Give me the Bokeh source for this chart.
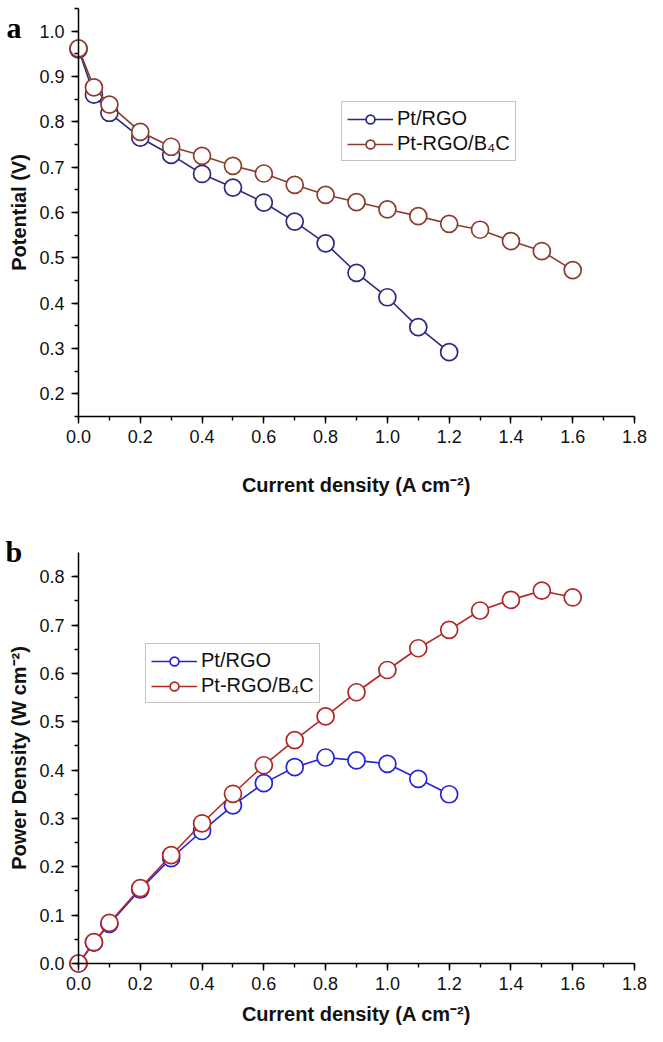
from bokeh.plotting import figure
from bokeh.layouts import column
from bokeh.models import SingleIntervalTicker, PrintfTickFormatter, Legend, LegendItem, Label, Range1d
from bokeh.embed import file_html
from bokeh.resources import INLINE

# ---- data ----
x_rgo = [0, 0.05, 0.1, 0.2, 0.3, 0.4, 0.5, 0.6, 0.7, 0.8, 0.9, 1.0, 1.1, 1.2]
x_b4c = [0, 0.05, 0.1, 0.2, 0.3, 0.4, 0.5, 0.6, 0.7, 0.8, 0.9, 1.0, 1.1, 1.2, 1.3, 1.4, 1.5, 1.6]

v_rgo = [0.960, 0.860, 0.820, 0.765, 0.727, 0.685, 0.655, 0.622, 0.580, 0.532, 0.467, 0.413, 0.347, 0.292]
v_b4c = [0.962, 0.876, 0.838, 0.778, 0.745, 0.725, 0.703, 0.686, 0.661, 0.639, 0.623, 0.607, 0.592,
         0.575, 0.562, 0.537, 0.515, 0.473]

p_rgo = [0.000, 0.043, 0.082, 0.153, 0.218, 0.274, 0.327, 0.373, 0.406, 0.426, 0.420, 0.413, 0.382, 0.350]
p_b4c = [0.000, 0.044, 0.084, 0.156, 0.224, 0.290, 0.351, 0.410, 0.462, 0.511, 0.561, 0.607, 0.652,
         0.690, 0.730, 0.752, 0.771, 0.757]

label_rgo = "Pt/RGO"
label_b4c = "Pt-RGO/B\u2084C"
xlabel = "Current density (A cm\u207b\u00b2)"
ylabel_a = "Potential (V)"
ylabel_b = "Power Density (W cm\u207b\u00b2)"

FONT = "Liberation Sans"

# axis extents (data) and layout (pixels inside each canvas)
X0, X1 = 0.0, 1.8
YA0, YA1 = 0.15, 1.05
YB0, YB1 = 0.0, 0.85
W = 647
AX_L, AX_R = 78, 634          # y-axis position / x-axis right end, px
HA, TA, BA = 510, 8, 416       # panel a: height, axis top, axis bottom
HB, TB, BB = 516, 42, 453      # panel b


def ranges(H, T, B, y0, y1):
    sx = (X1 - X0) / (AX_R - AX_L)
    sy = (y1 - y0) / (B - T)
    xr = Range1d(X0 - AX_L * sx, X1 + (W - AX_R) * sx)
    yr = Range1d(y0 - (H - B) * sy, y1 + T * sy)
    return xr, yr, sx, sy


def style(p, ylabel, xstand, y0, y1):
    p.xaxis.ticker = SingleIntervalTicker(interval=0.2, num_minor_ticks=2)
    p.yaxis.ticker = SingleIntervalTicker(interval=0.1, num_minor_ticks=2)
    p.xaxis.fixed_location = y0
    p.yaxis.fixed_location = X0
    p.xaxis.bounds = (X0, X1)
    p.yaxis.bounds = (y0, y1)
    for ax in (p.xaxis, p.yaxis):
        ax.formatter = PrintfTickFormatter(format="%.1f")
        ax.axis_line_color = "black"
        ax.axis_line_width = 1.5
        ax.major_tick_line_color = "black"
        ax.minor_tick_line_color = "black"
        ax.major_tick_line_width = 1.4
        ax.minor_tick_line_width = 1.4
        ax.major_tick_in = 0
        ax.major_tick_out = 7
        ax.minor_tick_in = 0
        ax.minor_tick_out = 4
        ax.major_label_text_font = FONT
        ax.major_label_text_font_size = "18px"
        ax.major_label_text_color = "#111111"
        ax.axis_label_text_font = FONT
        ax.axis_label_text_font_size = "20px"
        ax.axis_label_text_font_style = "bold"
        ax.axis_label_text_color = "#111111"
    p.xaxis.axis_label = xlabel
    p.yaxis.axis_label = ylabel
    p.xaxis.major_label_standoff = 6
    p.xaxis.axis_label_standoff = xstand
    p.yaxis.major_label_standoff = 7
    p.yaxis.axis_label_standoff = 6
    p.xgrid.visible = False
    p.ygrid.visible = False
    p.outline_line_color = None
    p.background_fill_color = "white"
    p.border_fill_color = "white"


def series(p, xs, ys, color):
    ln = p.line(xs, ys, line_color=color, line_width=1.6)
    sc = p.scatter(xs, ys, marker="circle", size=17, fill_color="white", line_color=color, line_width=1.7)
    return [ln, sc]


def make_fig(H, T, B, y0, y1):
    xr, yr, sx, sy = ranges(H, T, B, y0, y1)
    p = figure(width=W, height=H, output_backend="svg", toolbar_location=None,
               x_range=xr, y_range=yr, min_border=0,
               min_border_left=0, min_border_right=0, min_border_top=0, min_border_bottom=0)
    return p, sx, sy


def legend_style(lg):
    lg.label_text_font = FONT
    lg.label_text_font_size = "20px"
    lg.label_text_color = "#111111"
    lg.glyph_width = 46
    lg.glyph_height = 22
    lg.label_standoff = 4
    lg.spacing = 2
    lg.padding = 5
    lg.margin = 0
    lg.border_line_color = "#8a8a8a"
    lg.border_line_width = 1.3
    lg.background_fill_alpha = 1.0


# ---- panel a ----
pa, sxa, sya = make_fig(HA, TA, BA, YA0, YA1)
style(pa, ylabel_a, 28, YA0, YA1)
ca1, ca2 = "#2b2b7c", "#8c3c2e"
ra1 = series(pa, x_rgo, v_rgo, ca1)
ra2 = series(pa, x_b4c, v_b4c, ca2)
leg_a = Legend(items=[LegendItem(label=label_rgo, renderers=ra1), LegendItem(label=label_b4c, renderers=ra2)],
               location=(341, 349))
legend_style(leg_a)
pa.add_layout(leg_a, "center")
pa.add_layout(Label(x=X0 - 72 * sxa, y=YA1 - 19 * sya, text="a", text_baseline="alphabetic",
                    text_font="Liberation Serif", text_font_style="bold", text_font_size="30px",
                    text_color="black"))

# ---- panel b ----
pb, sxb, syb = make_fig(HB, TB, BB, YB0, YB1)
style(pb, ylabel_b, 10, YB0, YB1)
cb1, cb2 = "#2424d8", "#b32626"
rb1 = series(pb, x_rgo, p_rgo, cb1)
rb2 = series(pb, x_b4c, p_b4c, cb2)
leg_b = Legend(items=[LegendItem(label=label_rgo, renderers=rb1), LegendItem(label=label_b4c, renderers=rb2)],
               location=(145, 323))
legend_style(leg_b)
pb.add_layout(leg_b, "center")
pb.add_layout(Label(x=X0 - 73 * sxb, y=YB1 + 1 * syb, text="b", text_baseline="alphabetic",
                    text_font="Liberation Serif", text_font_style="bold", text_font_size="30px",
                    text_color="black"))

page = column(pa, pb)
open("out.html", "w").write(file_html(page, INLINE))
